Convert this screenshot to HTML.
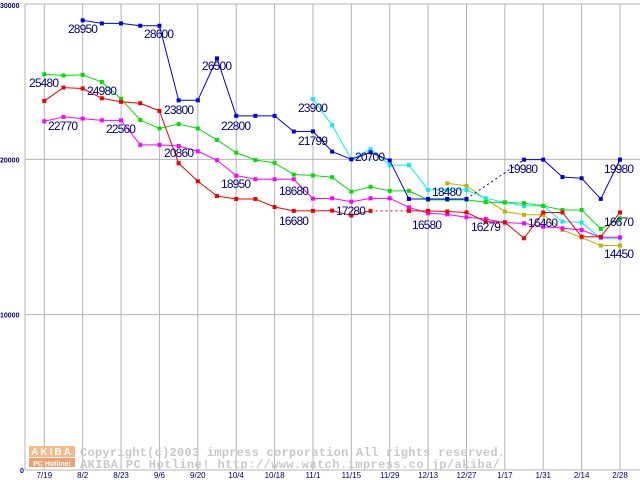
<!DOCTYPE html>
<html><head><meta charset="utf-8"><style>
html,body{margin:0;padding:0;background:#fff;}
svg{display:block;}
</style></head><body>
<svg id="chart" width="640" height="480" xmlns="http://www.w3.org/2000/svg">
<g id="grid"></g>
<g id="wm">
  <rect x="29" y="446" width="46" height="11" fill="#f8b888"/>
  <text x="52" y="455" font-family="Liberation Sans, sans-serif" font-size="10" font-weight="bold" fill="#fff" text-anchor="middle" letter-spacing="2">AKIBA</text>
  <rect x="29" y="458" width="46" height="9" fill="#f0a070"/>
  <text x="52" y="466" font-family="Liberation Sans, sans-serif" font-size="7" font-weight="bold" fill="#fff" text-anchor="middle">PC Hotline!</text>
  <text x="80" y="456" font-family="Liberation Mono, monospace" font-size="12" font-weight="bold" fill="#c8c8c8" textLength="425">Copyright(c)2003 impress corporation All rights reserved.</text>
  <text x="80" y="468" font-family="Liberation Mono, monospace" font-size="12" font-weight="bold" fill="#c8c8c8" textLength="420">AKIBA PC Hotline!  http://www.watch.impress.co.jp/akiba/</text>
</g>
<g id="series"></g>
<g id="labels"></g>
</svg>
<script>
const xLabels=["7/19","8/2","8/23","9/6","9/20","10/4","10/18","11/1","11/15","11/29","12/13","12/27","1/17","1/31","2/14","2/28"];
const yTicks=[0,10000,20000,30000];
const blue=[null,null,28950,28750,28750,28600,28600,23800,23800,26500,22800,22800,22800,21790,21799,20500,20000,20450,19930,17450,17450,17450,17450,null,null,19980,19980,18860,18780,17450,19980];
const green=[25480,25400,25440,24980,23900,22530,21990,22270,21990,21250,20430,19960,19770,19020,18960,18850,17920,18230,17970,17970,17390,17390,17390,17240,17220,17180,17000,16740,16740,15520,16190];
const red=[23760,24620,24560,23930,23700,23610,23120,19750,18590,17640,17450,17450,16930,16680,16680,16700,16380,16680,null,16680,16680,16640,16580,15990,15950,14920,16580,16580,15020,15020,16580];
const magenta=[22450,22730,22620,22510,22510,20930,20930,20860,20520,19940,18950,18720,18720,18720,17470,17490,17270,17490,17490,16910,16530,16460,16270,16160,15920,15880,15660,15560,15450,14980,14980];
const cyan=[null,null,null,null,null,null,null,null,null,null,null,null,null,null,23880,22200,20000,20650,19630,19630,18030,18030,18030,17490,17240,17000,17000,15990,15930,14920,14920];
const olive=[null,null,null,null,null,null,null,null,null,null,null,null,null,null,null,null,null,null,null,null,null,18450,18300,17450,16640,16430,16430,15450,14960,14450,14450];
const labelTexts=["28950","28600","26500","25480","24980","23800","22770","22560","22800","20860","18950","18680","16680","23900","21799","20700","17280","16580","18480","16279","19980","16460","19980","16670","14450"];
const labelIdx=[2,6,9,0,2,7,0,4,10,7,10,13,13,14,14,16,15,19,20,22,25,25,29,29,29];
const labelVals=[28950,28600,26500,25480,24980,23800,22770,22560,22800,20860,18950,18680,16680,23900,21799,20700,17280,16580,18480,16279,19980,16460,19980,16670,14450];

const NS="http://www.w3.org/2000/svg";
function xi(i){return 44.3+i*19.19;}
function yv(v){return 470-v*466/30000;}
function mk(tag,attrs,parent){const e=document.createElementNS(NS,tag);for(const k in attrs)e.setAttribute(k,attrs[k]);parent.appendChild(e);return e;}
const grid=document.getElementById('grid');
yTicks.forEach((t,k)=>{
  const l=mk('line',{x1:25,x2:640,y1:yv(t),y2:yv(t),stroke:'#b4b4b4','stroke-width':1},grid);
  
  
  const tx=mk('text',{x:t===0?20:0,y:yv(t)+(t===30000?4:3),'font-family':'Liberation Sans, sans-serif','font-size':7,'font-weight':'bold',fill:'#000080'},grid);
  tx.textContent=String(t);
  
  
});
xLabels.forEach((s,k)=>{
  const x=xi(k*2);
  const l=mk('line',{x1:x,x2:x,y1:4,y2:470,stroke:'#b4b4b4','stroke-width':1},grid);
  
  
  const tx=mk('text',{x:x,y:478,'text-anchor':'middle','font-family':'Liberation Sans, sans-serif','font-size':8,fill:'#000080'},grid);
  tx.textContent=s;
  
  
});
const ax=mk('line',{x1:25,x2:25,y1:4,y2:470,stroke:'#b4b4b4','stroke-width':1},grid);



const sg=document.getElementById('series');
function draw(arr,color,name){
  const g=mk('g',{},sg);
  
  
  let prev=-1;
  for(let i=0;i<arr.length;i++){
    if(arr[i]==null)continue;
    if(prev>=0){
      const gap=i-prev>1;
      const l=mk('line',{x1:xi(prev),y1:yv(arr[prev]),x2:xi(i),y2:yv(arr[i]),stroke:color,'stroke-width':1},g);
      if(gap)l.setAttribute('stroke-dasharray','2,3');
      
      
    }
    prev=i;
  }
  for(let i=0;i<arr.length;i++){
    if(arr[i]==null)continue;
    const r=mk('rect',{x:xi(i)-2,y:yv(arr[i])-2,width:4,height:4,fill:color},g);
    
    
  }
}
draw(olive,'#c0b000','series-olive');
draw(cyan,'#00f0f0','series-cyan');
draw(magenta,'#ff00ff','series-magenta');
draw(green,'#00e000','series-green');
draw(red,'#f00000','series-red');
draw(blue,'#0000e0','series-blue');

const lg=document.getElementById('labels');
const offs=[[-14.7,12.7],[-15.4,12.2],[-15,11.6],[-15.3,12.8],[4.3,13],[-14.6,13.7],[3.7,13.7],[-15.1,13.4],[-15.2,14.2],[-14.6,11],[-15.2,12.4],[-14.8,15.2],[-14.8,14.1],[-15,13.3],[-15,13.6],[3.7,12.5],[3.8,13.4],[3.1,16.5],[3.9,13.1],[4.5,13.9],[-16,13.4],[4,12.7],[3.2,13.4],[3.2,14.9],[3.2,12.5]];
labelTexts.forEach((s,k)=>{
  const i=labelIdx[k];
  const x=xi(i)+offs[k][0], y=yv(labelVals[k])+offs[k][1];
  const t=mk('text',{x:x,y:y,'font-family':'Liberation Sans, sans-serif','font-size':12,fill:'#000080',textLength:30},lg);
  t.textContent=s;
  
  
});
</script>
</body></html>
